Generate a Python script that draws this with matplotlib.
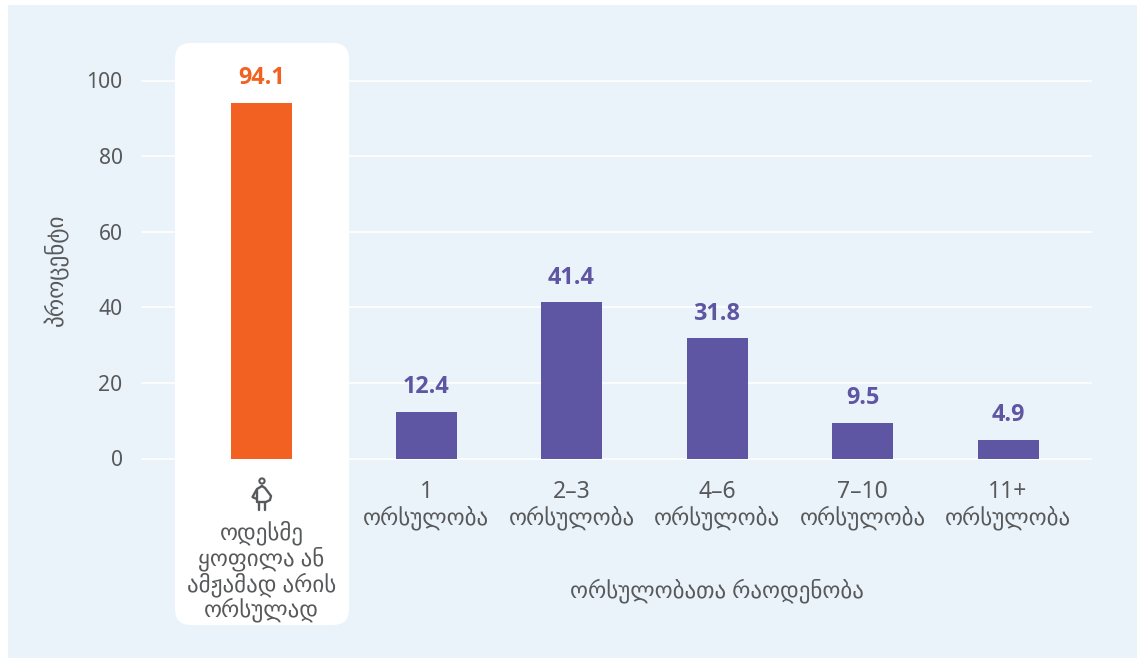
import numpy as np
import matplotlib
matplotlib.use('Agg')
import matplotlib.pyplot as plt
from matplotlib.patches import FancyBboxPatch, Rectangle, Circle

categories = ['ოდესმე\nყოფილა ან\nამჟამად არის\nორსულად', '1\nორსულობა', '2–3\nორსულობა',
              '4–6\nორსულობა', '7–10\nორსულობა', '11+\nორსულობა']
values = [94.1, 12.4, 41.4, 31.8, 9.5, 4.9]
yticks = [0, 20, 40, 60, 80, 100]
ylabel = 'პროცენტი'
xlabel = 'ორსულობათა რაოდენობა'

W, H = 1137, 659
FONT = ['Noto Sans', 'DejaVu Sans']
BOLD = ['Open Sans', 'DejaVu Sans']
TXT = '#58595b'
ORANGE = '#f26122'
PURPLE = '#5e55a3'
BG = '#eaf3fa'

fig = plt.figure(figsize=(W/100, H/100), dpi=100, facecolor='white')

def px(x0, y0, x1, y1):
    return [x0/W, 1-y1/H, (x1-x0)/W, (y1-y0)/H]

bgax = fig.add_axes([0, 0, 1, 1], zorder=0)
bgax.set_xlim(0, W); bgax.set_ylim(H, 0); bgax.axis('off')
bgax.add_patch(Rectangle((8, 5), W-8, 653, fc=BG, ec='none'))

ax = fig.add_axes(px(142, 80.5, 1091, 458.5), zorder=1)
ax.patch.set_alpha(0)
for s in ax.spines.values():
    s.set_visible(False)
ax.set_ylim(0, 100)
spacing = 145.5
xpos = np.arange(len(values), dtype=float)
xpos[0] = 1 - 164.5/spacing
ax.set_xlim(1-(426-142)/spacing, 1+(1091-426)/spacing)
ax.set_yticks(yticks)
ax.set_yticklabels([str(v) for v in yticks], family=FONT, fontsize=15.2, color=TXT)
ax.tick_params(axis='y', length=0, pad=14)
ax.set_xticks([])
ax.grid(axis='y', color='white', lw=1.1, zorder=1, clip_on=False)
ax.set_axisbelow(True)

colors = [ORANGE] + [PURPLE]*5
ax.bar(xpos, values, width=61/spacing, color=colors, zorder=3)
for x, v, c in zip(xpos, values, colors):
    ax.annotate(f'{v}', (x, v), xytext=(0, 9), textcoords='offset points', ha='center', va='bottom',
                family=BOLD, fontsize=16.8, fontweight='bold', color=c, zorder=4)

# category labels, placed under each bar
trans = ax.get_xaxis_transform()
for i, (x, c) in enumerate(zip(xpos, categories)):
    top = -0.058 if i else -0.166
    ax.text(x, top, c, transform=trans, ha='center', va='top', family=FONT, fontsize=16.5,
            color=TXT, linespacing=1.055, clip_on=False)

ax.text(717, 591, xlabel, transform=bgax.transData, ha='center', va='center', family=FONT, fontsize=16.5, color=TXT)
ax.text(57, 270, ylabel, transform=bgax.transData, ha='center', va='center', rotation=90, family=FONT, fontsize=16.7, color=TXT)

# white highlight card
bgax.add_patch(FancyBboxPatch((175+16, 43+16), 174-32, 582-32, boxstyle='round,pad=16,rounding_size=16', fc='white', ec='none', zorder=2))

# pregnant figure icon (symbol)
ic = dict(color=TXT, lw=1.7, zorder=5, solid_capstyle='round', solid_joinstyle='round')
bgax.add_patch(Circle((262, 481), 2.6, fc='none', ec=TXT, lw=1.5, zorder=5))
bgax.plot([262, 257, 252.5, 255.5], [486, 489, 497, 498.5], **ic)
bgax.plot([262, 265, 271, 270, 266, 257, 257], [486, 488, 496, 500, 502, 502, 490], **ic)
bgax.plot([258.5, 258.5], [502, 510], **ic)
bgax.plot([265, 265], [502, 510], **ic)

fig.savefig('out.png', dpi=100)
